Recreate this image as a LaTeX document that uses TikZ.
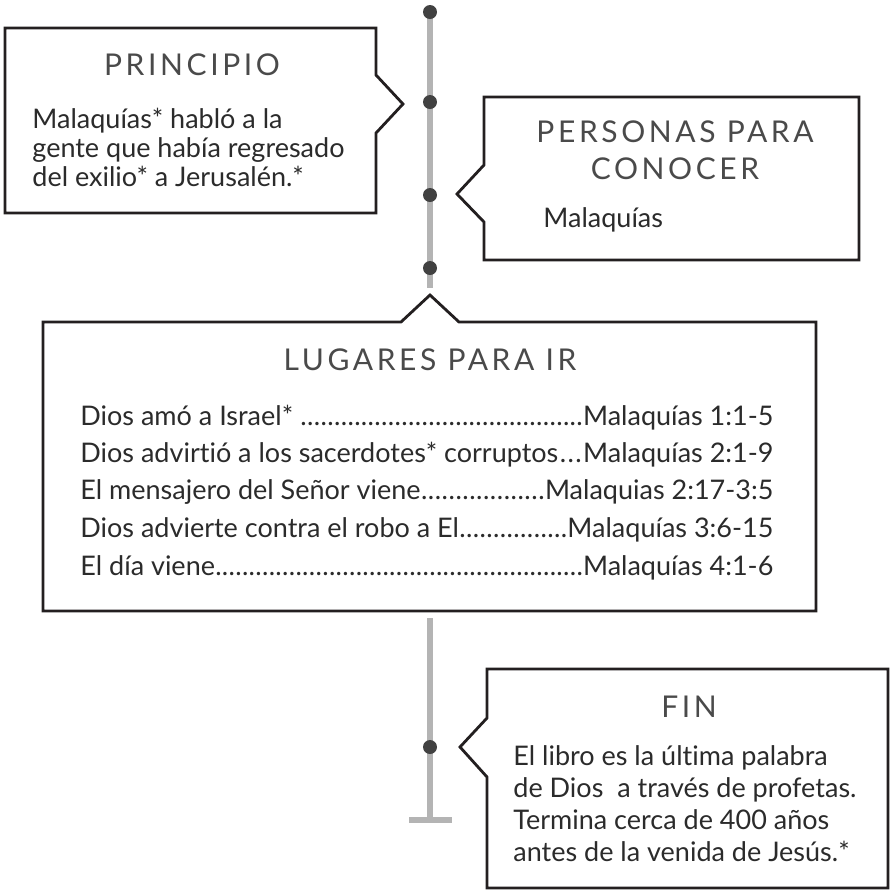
\documentclass[tikz,border=0pt]{standalone}
\usepackage{fontspec}
\setmainfont{Lato}
\newfontfamily\bodyfam[Ligatures=NoCommon]{Lato}
\newfontfamily\headfam[LetterSpace=12]{Lato}
\usetikzlibrary{positioning}
\definecolor{boxline}{HTML}{231F20}
\definecolor{railgray}{HTML}{B4B4B4}
\definecolor{dotgray}{HTML}{414141}
\definecolor{textgray}{HTML}{2B2B2B}
\definecolor{headgray}{HTML}{4A4A4A}
\newcommand\leadrow[2]{\hbox to 346.5pt{#1\xleaders\hbox to 3.3pt{\hss.\hss}\hfill#2}}

\begin{document}
\begin{tikzpicture}[x=0.5pt,y=-0.5pt,
 box/.style={draw=boxline,line width=1.4pt,fill=white,line join=miter},
 rail/.style={draw=railgray,line width=3pt},
 dot/.style={circle,fill=dotgray,inner sep=0pt,minimum size=7pt},
 head/.style={font=\headfam\fontsize{15}{18.5}\selectfont,text=headgray,anchor=base,align=center,inner sep=0pt},
 body/.style={font=\bodyfam\fontsize{13.5}{14.5}\selectfont,text=textgray,anchor=base west,align=left,inner sep=0pt},
 row/.style={font=\bodyfam\fontsize{13.5}{14.5}\selectfont,text=textgray,anchor=base west,inner sep=0pt}]
\useasboundingbox (0,0) rectangle (891,891);
% timeline
\coordinate (top) at (430,12); \coordinate (railA) at (430,288);
\coordinate (railB) at (430,618); \coordinate (railC) at (430,820);
\draw[rail] (top) -- (railA);
\draw[rail] (railB) -- (railC);
\draw[rail] ([xshift=-10.5pt]railC) -- ([xshift=11pt]railC);
\node[dot] (d1) at (top) {};
\node[dot] (d2) at (430,102) {};
\node[dot] (d3) at (430,195) {};
\node[dot] (d4) at (430,268) {};
\node[dot] (d5) at (430,747) {};
% boxes
\draw[box] (5,28) -- (376,28) -- (376,75) -- (403,104) -- (376,133) -- (376,213) -- (5,213) -- cycle;
\draw[box] (484,97) -- (859,97) -- (859,260) -- (484,260) -- (484,222) -- (457,194) -- (484,165) -- cycle;
\draw[box] (43,322) -- (401,322) -- (430,295) -- (459,322) -- (816,322) -- (816,611) -- (43,611) -- cycle;
\draw[box] (487,669) -- (888,669) -- (888,888) -- (487,888) -- (487,777) -- (460,747) -- (487,718) -- cycle;
% texts (multi-line nodes sit on their last line)
\node[head] (t1) at (192,75) {PRINCIPIO};
\node[body] (b1) at (32,186) {Malaquías* habló a la\\gente que había regresado\\del exilio* a Jerusalén.*};
\node[head] (t2) at (675,179) {PERSONAS PARA\\CONOCER};
\node[body] (b2) at (543,227) {Malaquías};
\node[head] (t3) at (430,370) {LUGARES PARA IR};
\node[row] (r1) at (80,425) {\leadrow{Dios amó a Israel* }{Malaquías 1:1-5}};
\node[row] (r2) at (80,462) {\leadrow{Dios advirtió a los sacerdotes* corruptos}{Malaquías 2:1-9}};
\node[row] (r3) at (80,499.5) {\leadrow{El mensajero del Señor viene}{Malaquias 2:17-3:5}};
\node[row] (r4) at (80,537) {\leadrow{Dios advierte contra el robo a El}{Malaquías 3:6-15}};
\node[row] (r5) at (80,575) {\leadrow{El día viene}{Malaquías 4:1-6}};
\node[head] (t4) at (689,717) {FIN};
\node[body,font=\bodyfam\fontsize{13.5}{16}\selectfont] (b4) at (513,861) {El libro es la última palabra\\de Dios\ \ a través de profetas.\\Termina cerca de 400 años\\antes de la venida de Jesús.*};
\end{tikzpicture}
\end{document}
